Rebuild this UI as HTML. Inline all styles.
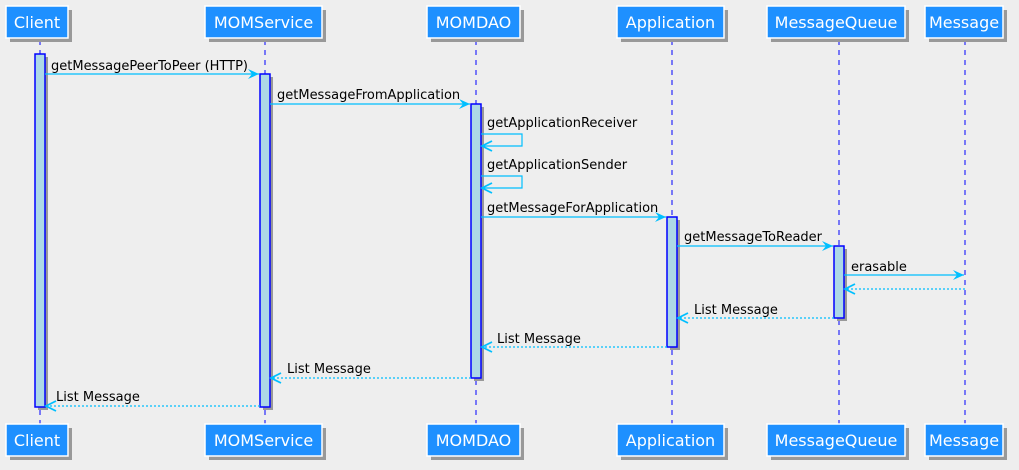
<!DOCTYPE html>
<html><head><meta charset="utf-8"><style>
body{margin:0;background:#eeeeee;}
svg{display:block;font-family:"DejaVu Sans","Liberation Sans",sans-serif;}
</style></head><body>
<svg width="1019" height="470" viewBox="0 0 1019 470" xmlns="http://www.w3.org/2000/svg">
<defs>
<marker id="a" markerWidth="12" markerHeight="10" refX="11" refY="5" orient="auto" markerUnits="userSpaceOnUse">
<path d="M0,0 L11,5 L0,10 L4,5 Z" fill="#00bfff"/></marker>
<marker id="o" markerWidth="14" markerHeight="12" refX="11" refY="6" orient="auto" markerUnits="userSpaceOnUse">
<path d="M1,1 L11,6 L1,11" fill="none" stroke="#00bfff" stroke-width="1.8"/></marker>
</defs>
<rect width="1019" height="470" fill="#eeeeee"/>
<g stroke="#0000ff" stroke-dasharray="5,5" stroke-width="1">
<line x1="40" y1="40" x2="40" y2="424"/><line x1="265" y1="40" x2="265" y2="424"/>
<line x1="476" y1="40" x2="476" y2="424"/><line x1="672" y1="40" x2="672" y2="424"/>
<line x1="839" y1="40" x2="839" y2="424"/><line x1="965" y1="40" x2="965" y2="424"/>
</g>
<g fill="#999">
<rect x="38" y="57" width="10" height="353"/><rect x="263" y="77" width="10" height="333"/>
<rect x="474" y="107" width="10" height="274"/><rect x="670" y="220" width="10" height="130"/>
<rect x="837" y="249" width="10" height="72"/>
</g>
<g fill="#add8e6" stroke="#0000ff" stroke-width="1.5">
<rect x="35" y="54" width="10" height="353"/><rect x="260" y="74" width="10" height="333"/>
<rect x="471" y="104" width="10" height="274"/><rect x="667" y="217" width="10" height="130"/>
<rect x="834" y="246" width="10" height="72"/>
</g>
<g font-size="13" fill="#000">
<text x="51" y="70">getMessagePeerToPeer (HTTP)</text>
<text x="277" y="99">getMessageFromApplication</text>
<text x="487" y="127">getApplicationReceiver</text>
<text x="487" y="169">getApplicationSender</text>
<text x="487" y="212">getMessageForApplication</text>
<text x="684" y="241">getMessageToReader</text>
<text x="851" y="271">erasable</text>
<text x="694" y="314">List Message</text>
<text x="497" y="343">List Message</text>
<text x="287" y="373">List Message</text>
<text x="56" y="401">List Message</text>
</g>
<g stroke="#00bfff" stroke-width="1.2" fill="none">
<line x1="45" y1="74" x2="259" y2="74" marker-end="url(#a)"/>
<line x1="270" y1="104" x2="470" y2="104" marker-end="url(#a)"/>
<polyline points="481,134 522,134 522,146 482,146" marker-end="url(#o)"/>
<polyline points="481,176 522,176 522,188 482,188" marker-end="url(#o)"/>
<line x1="481" y1="217" x2="666" y2="217" marker-end="url(#a)"/>
<line x1="677" y1="246" x2="833" y2="246" marker-end="url(#a)"/>
<line x1="844" y1="275" x2="964" y2="275" marker-end="url(#a)"/>
<g stroke-dasharray="2,2">
<line x1="965" y1="289" x2="845" y2="289" marker-end="url(#o)"/>
<line x1="834" y1="318" x2="678" y2="318" marker-end="url(#o)"/>
<line x1="667" y1="347" x2="482" y2="347" marker-end="url(#o)"/>
<line x1="471" y1="378" x2="271" y2="378" marker-end="url(#o)"/>
<line x1="260" y1="406" x2="46" y2="406" marker-end="url(#o)"/>
</g>
</g>
<g font-size="16" fill="#fff" text-anchor="middle">
<g id="boxes">
<rect x="10" y="10" width="62" height="32" fill="#999"/><rect x="6" y="6" width="62" height="32" fill="#1e90ff" stroke="#fff" stroke-width="1.5"/><text x="37" y="28">Client</text>
<rect x="209" y="10" width="117" height="32" fill="#999"/><rect x="205" y="6" width="117" height="32" fill="#1e90ff" stroke="#fff" stroke-width="1.5"/><text x="263.5" y="28">MOMService</text>
<rect x="431" y="10" width="93" height="32" fill="#999"/><rect x="427" y="6" width="93" height="32" fill="#1e90ff" stroke="#fff" stroke-width="1.5"/><text x="473.5" y="28">MOMDAO</text>
<rect x="621" y="10" width="107" height="32" fill="#999"/><rect x="617" y="6" width="107" height="32" fill="#1e90ff" stroke="#fff" stroke-width="1.5"/><text x="670.5" y="28">Application</text>
<rect x="771" y="10" width="138" height="32" fill="#999"/><rect x="767" y="6" width="138" height="32" fill="#1e90ff" stroke="#fff" stroke-width="1.5"/><text x="836" y="28">MessageQueue</text>
<rect x="929" y="10" width="78" height="32" fill="#999"/><rect x="925" y="6" width="78" height="32" fill="#1e90ff" stroke="#fff" stroke-width="1.5"/><text x="964" y="28">Message</text>
</g>
<use href="#boxes" y="418"/>
</g>
</svg>
</body></html>
